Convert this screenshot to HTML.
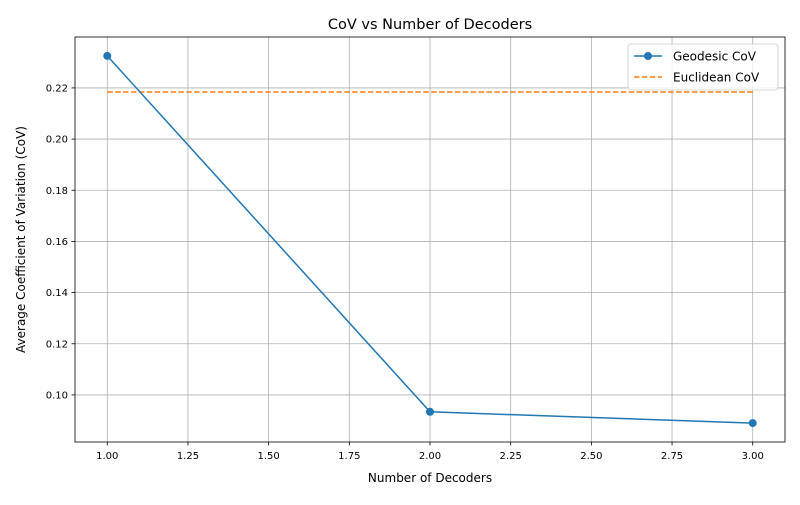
<!DOCTYPE html>
<html><head><meta charset="utf-8"><style>
body{margin:0;background:#fff;font-family:"Liberation Sans","DejaVu Sans",sans-serif}
svg text{font-family:"DejaVu Sans","Liberation Sans",sans-serif}
</style></head><body>
<svg id="chart" width="800" height="500" xmlns="http://www.w3.org/2000/svg"></svg>
<script>
const decoders = [1, 2, 3];
const geodesicCov = [0.2325, 0.0934, 0.0890];
const euclideanCov = 0.2184;
const xTicks = [1.00, 1.25, 1.50, 1.75, 2.00, 2.25, 2.50, 2.75, 3.00];
const yTicks = [0.10, 0.12, 0.14, 0.16, 0.18, 0.20, 0.22];

const L=75,R=785,T=37,B=442;
const xMin=0.9,xMax=3.1,yMin=0.0816,yMax=0.2399;
const sx=v=>L+(v-xMin)/(xMax-xMin)*(R-L);
const sy=v=>B-(v-yMin)/(yMax-yMin)*(B-T);
const svg=document.getElementById('chart');
const NS='http://www.w3.org/2000/svg';
function mk(tag,attrs,parent){const e=document.createElementNS(NS,tag);for(const k in attrs)e.setAttribute(k,attrs[k]);(parent||svg).appendChild(e);return e;}

const grid=mk('g',{});


xTicks.forEach(v=>{const x=sx(v);
 mk('line',{x1:x,x2:x,y1:T,y2:B,stroke:'#b0b0b0','stroke-width':0.8},grid);
 mk('line',{x1:x,x2:x,y1:B,y2:B+3.5,stroke:'#000','stroke-width':0.8});
 const t=mk('text',{x:x,y:B+17,'text-anchor':'middle','font-size':10,fill:'#000'});t.textContent=v.toFixed(2);
 
 
});
yTicks.forEach(v=>{const y=sy(v);
 mk('line',{x1:L,x2:R,y1:y,y2:y,stroke:'#b0b0b0','stroke-width':0.8},grid);
 mk('line',{x1:L-3.5,x2:L,y1:y,y2:y,stroke:'#000','stroke-width':0.8});
 const t=mk('text',{x:L-7,y:y+3.5,'text-anchor':'end','font-size':10,fill:'#000'});t.textContent=v.toFixed(2);
 
 
});

const eu=mk('line',{x1:sx(decoders[0]),x2:sx(decoders[decoders.length-1]),y1:sy(euclideanCov),y2:sy(euclideanCov),stroke:'#ff7f0e','stroke-width':1.5,'stroke-dasharray':'5.5,2.4'});



const pts=decoders.map((d,i)=>sx(d)+','+sy(geodesicCov[i])).join(' ');
const geo=mk('polyline',{points:pts,fill:'none',stroke:'#1f77b4','stroke-width':1.5});


decoders.forEach((d,i)=>{const c=mk('circle',{cx:sx(d),cy:sy(geodesicCov[i]),r:4,fill:'#1f77b4'});
 
 
});

const frame=mk('rect',{x:L,y:T,width:R-L,height:B-T,fill:'none',stroke:'#000','stroke-width':0.8});



const title=mk('text',{x:(L+R)/2,y:29,'text-anchor':'middle','font-size':14.5,fill:'#000'});title.textContent='CoV vs Number of Decoders';


const xl=mk('text',{x:(L+R)/2,y:482,'text-anchor':'middle','font-size':12,fill:'#000'});xl.textContent='Number of Decoders';


const yl=mk('text',{x:0,y:0,'text-anchor':'middle','font-size':12,fill:'#000',transform:`translate(25,${(T+B)/2}) rotate(-90)`});yl.textContent='Average Coefficient of Variation (CoV)';



const lg=mk('g',{});


mk('rect',{x:628,y:44,width:150,height:46,rx:3,fill:'#fff','fill-opacity':0.8,stroke:'#ccc','stroke-width':0.8},lg);
mk('line',{x1:634,x2:662,y1:56,y2:56,stroke:'#1f77b4','stroke-width':1.5},lg);
mk('circle',{cx:648,cy:56,r:4,fill:'#1f77b4'},lg);
const t1=mk('text',{x:673,y:60.5,'font-size':12,fill:'#000'},lg);t1.textContent='Geodesic CoV';


mk('line',{x1:634,x2:662,y1:77,y2:77,stroke:'#ff7f0e','stroke-width':1.5,'stroke-dasharray':'5.5,2.4'},lg);
const t2=mk('text',{x:673,y:81.5,'font-size':12,fill:'#000'},lg);t2.textContent='Euclidean CoV';


</script>
</body></html>
